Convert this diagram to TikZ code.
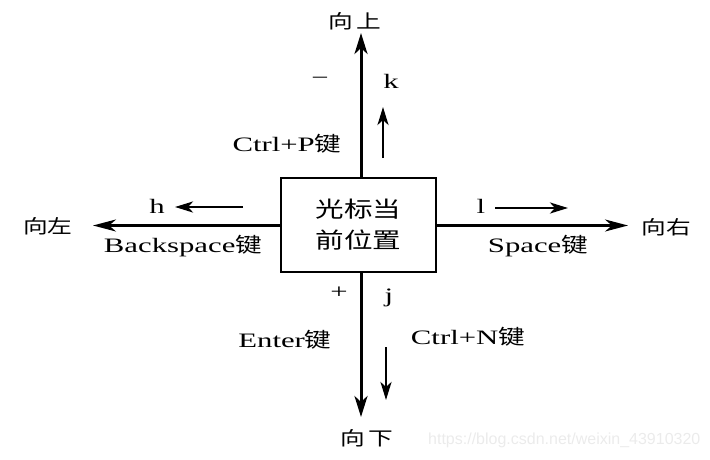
\documentclass[tikz,border=0pt]{standalone}
\usepackage{fontspec}
\setmainfont[FakeStretch=1.5]{Liberation Serif}
\newfontfamily\cjk[FakeStretch=1.3]{Noto Sans CJK SC}
\newfontfamily\wmfont{Liberation Sans}
\usetikzlibrary{arrows.meta}
\begin{document}
\begin{tikzpicture}[x=1pt,y=-1pt,
  mainarr/.style={line width=3pt,-{Stealth[length=21pt,width=13pt,inset=6pt]}},
  hmainarr/.style={line width=2.4pt,-{Stealth[length=23pt,width=12pt,inset=7pt]}},
  smallarr/.style={line width=2.6pt,-{Stealth[length=18pt,width=11pt,inset=5pt]}},
  dirlbl/.style={font=\cjk\fontsize{19}{22}\selectfont,inner sep=0pt},
  keylbl/.style={font=\fontsize{20.5}{24}\selectfont,inner sep=0pt},
  boxstyle/.style={draw,line width=2.8pt,minimum width=155pt,minimum height=94pt,inner sep=0pt,align=center,font=\cjk\fontsize{22}{31}\selectfont}
]
\useasboundingbox (0,0) rectangle (710,460);
% centre box
\node[boxstyle] (box) at (358.5,225) {光标当\\前位置};
% direction labels
\node[dirlbl] (up) at (355,21) {向\,上};
\node[dirlbl] (down) at (367,438) {向\,下};
\node[dirlbl] (left) at (48,226) {向左};
\node[dirlbl] (right) at (666,227) {向右};
% arrow tips
\coordinate (upTip) at (361,33);
\coordinate (downTip) at (361,417);
\coordinate (leftTip) at (93,225.5);
\coordinate (rightTip) at (628,225.5);
\draw[mainarr] (box.north -| upTip) -- (upTip);
\draw[mainarr] (box.south -| downTip) -- (downTip);
\draw[hmainarr] (box.west |- leftTip) -- (leftTip);
\draw[hmainarr] (box.east |- rightTip) -- (rightTip);
% key labels
\node[keylbl] (minus) at (320,81) {−};
\node[keylbl] (k) at (391,81) {k};
\node[keylbl] (ctrlp) at (287,144) {Ctrl+P{\cjk 键}};
\node[keylbl] (h) at (157,206) {h};
\node[keylbl] (bs) at (183,246) {Backspace{\cjk 键}};
\node[keylbl] (l) at (481,206) {l};
\node[keylbl] (sp) at (538,246) {Space{\cjk 键}};
\node[keylbl] (plus) at (339,293) {+};
\node[keylbl] (j) at (389,298) {j};
\node[keylbl] (enter) at (285,340) {Enter{\cjk 键}};
\node[keylbl] (ctrln) at (468,337) {Ctrl+N{\cjk 键}};
% small arrows
\coordinate (kS) at (383,158); \coordinate (kE) at (383,107);
\coordinate (hS) at (243,207); \coordinate (hE) at (175,207);
\coordinate (lS) at (495,208); \coordinate (lE) at (568,208);
\coordinate (jS) at (386,347); \coordinate (jE) at (386,400);
\draw[smallarr] (kS) -- (kE);
\draw[smallarr] (hS) -- (hE);
\draw[smallarr] (lS) -- (lE);
\draw[smallarr] (jS) -- (jE);
% watermark
\node[font=\wmfont\fontsize{16}{16}\selectfont,text=gray!16,anchor=west,inner sep=0pt] (wm) at (428,440) {https://blog.csdn.net/weixin\_43910320};
\end{tikzpicture}
\end{document}
